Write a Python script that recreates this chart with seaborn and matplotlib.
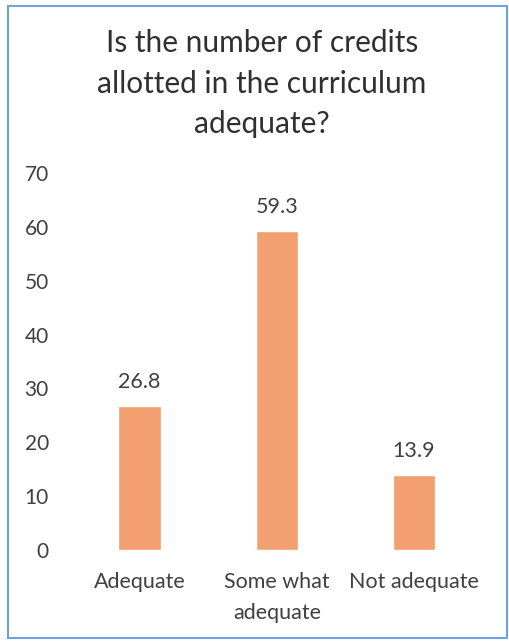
import matplotlib
matplotlib.use("Agg")
import matplotlib.pyplot as plt
import seaborn as sns
import pandas as pd
from matplotlib.patches import Rectangle

# data
categories = ["Adequate", "Some what\nadequate", "Not adequate"]
values = [26.8, 59.3, 13.9]
title = "Is the number of credits\nallotted in the curriculum\nadequate?"

sns.set_style("white")
plt.rcParams["font.family"] = ["Lato", "DejaVu Sans"]

data = pd.DataFrame({"Response": categories, "Percent": values})

fig = plt.figure(figsize=(5.09, 6.43), dpi=100)
ax = fig.add_axes([0.1395, 0.1446, 0.8085, 0.5863])

sns.barplot(x="Response", y="Percent", data=data, color="#F2A070",
            saturation=1, width=0.31, ax=ax)

ax.set_ylim(0, 70)
ax.set_yticks(range(0, 71, 10))
ax.set_xlim(-0.5, 2.5)
ax.set_xlabel("")
ax.set_ylabel("")
for s in ax.spines.values():
    s.set_visible(False)
ax.tick_params(axis="both", length=0, colors="#404040")
ax.tick_params(axis="y", pad=16, labelsize=15)
ax.tick_params(axis="x", pad=16, labelsize=15.5)
for lbl in ax.get_xticklabels():
    lbl.set_linespacing(1.65)

for i, v in enumerate(values):
    ax.annotate(f"{v}", (i, v), xytext=(0, 10), textcoords="offset points",
                ha="center", va="bottom", fontsize=15.5, color="#404040")

fig.text(0.515, 0.955, title, ha="center", va="top", fontsize=21.5,
         color="#303030", linespacing=1.55)

# blue frame around the chart
fig.patches.append(Rectangle((0.016, 0.008), 0.98, 0.982, transform=fig.transFigure,
                             fill=False, edgecolor="#6AA3E0", linewidth=1.5))

fig.savefig("out.png", dpi=100)
